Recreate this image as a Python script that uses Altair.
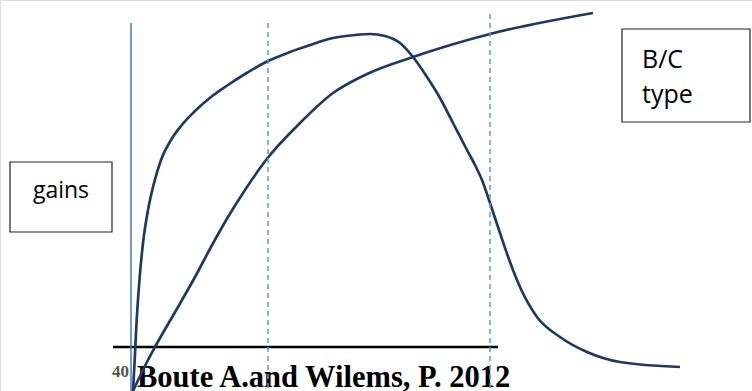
import altair as alt
import pandas as pd

W, H = 752, 391

# curve that rises, peaks and falls (pixel-space readings)
c1_x = [133, 134.7, 136.3, 139.7, 143, 148, 153, 161, 171, 181, 195, 211, 228, 245, 266, 290, 310, 333, 355, 370, 385, 400, 413, 427, 440, 453, 467, 475, 482, 490, 500, 510, 520, 537, 560, 587, 620, 680]
c1_y = [391, 360, 327, 277, 243, 210, 187, 160, 140, 126, 111, 97, 85, 74, 62, 52, 45, 38, 35, 34, 36, 43, 57, 77, 98, 123, 150, 165, 180, 203, 233, 262, 287, 317, 337, 352, 362, 367]

# monotonically rising curve
c2_x = [133, 148, 155, 178, 195, 211, 228, 245, 266, 300, 333, 367, 413, 490, 593]
c2_y = [391, 360, 347, 307, 277, 247, 217, 190, 160, 123, 93, 74, 57, 34, 13]

# vertical reference lines
dash_x = [268, 490]
dash_top = [23, 14]
solid_x = [131]
solid_top = [23]

# horizontal base line
base_x1, base_x2, base_y = [113], [498], [347]

# boxes
box_x1 = [10, 622]
box_x2 = [112, 750]
box_y1 = [162, 29]
box_y2 = [232, 122]

box_text = ["gains", "B/C", "type"]
box_text_x = [61, 642, 642]
box_text_y = [198, 68, 103]
box_text_size = [23, 25, 25]

xs = alt.Scale(domain=[0, W])
ys = alt.Scale(domain=[0, H], reverse=True)

def X(f):
    return alt.X(f, type="quantitative", scale=xs, axis=None)

def Y(f):
    return alt.Y(f, type="quantitative", scale=ys, axis=None)

c1 = pd.DataFrame({"x": c1_x, "y": c1_y})
c2 = pd.DataFrame({"x": c2_x, "y": c2_y})

navy = "#203864"

curve1 = alt.Chart(c1).mark_line(color=navy, strokeWidth=2.7, interpolate="monotone").encode(
    x=X("x"), y=Y("y"))
curve2 = alt.Chart(c2).mark_line(color=navy, strokeWidth=2.7, interpolate="monotone").encode(
    x=X("x"), y=Y("y"))

dash_df = pd.DataFrame({"x": dash_x, "y": dash_top, "y2": [H] * len(dash_x)})
dashed = alt.Chart(dash_df).mark_rule(color="#6a93d8", strokeWidth=1.5, strokeDash=[5, 4]).encode(
    x=X("x"), y=Y("y"), y2="y2")

solid_df = pd.DataFrame({"x": solid_x, "y": solid_top, "y2": [H]})
solid = alt.Chart(solid_df).mark_rule(color="#4a78c8", strokeWidth=1.5).encode(
    x=X("x"), y=Y("y"), y2="y2")

base_df = pd.DataFrame({"x": base_x1, "x2": base_x2, "y": base_y})
base = alt.Chart(base_df).mark_rule(color="black", strokeWidth=2.5).encode(
    x=X("x"), x2="x2", y=Y("y"))

box_df = pd.DataFrame({"x": box_x1, "x2": box_x2, "y": box_y1, "y2": box_y2})
boxes = alt.Chart(box_df).mark_rect(fill="white", stroke="#222222", strokeWidth=1.2).encode(
    x=X("x"), x2="x2", y=Y("y"), y2="y2")

bt = pd.DataFrame({"t": box_text, "x": box_text_x, "y": box_text_y, "s": box_text_size})
txt_center = alt.Chart(bt.iloc[[0]]).mark_text(
    align="center", baseline="alphabetic", font="Open Sans", color="black").encode(
    x=X("x"), y=Y("y"), text="t", size=alt.Size("s:Q", scale=None, legend=None))
txt_left = alt.Chart(bt.iloc[1:]).mark_text(
    align="left", baseline="alphabetic", font="Open Sans", color="black").encode(
    x=X("x"), y=Y("y"), text="t", size=alt.Size("s:Q", scale=None, legend=None))

cite_df = pd.DataFrame({"t": ["Boute A.and Wilems, P. 2012"], "x": [137], "y": [387]})
cite = alt.Chart(cite_df).mark_text(
    align="left", baseline="alphabetic", font="Liberation Serif", fontWeight="bold", fontSize=30.5, color="black").encode(
    x=X("x"), y=Y("y"), text="t")

num_df = pd.DataFrame({"t": ["40"], "x": [112], "y": [377]})
num = alt.Chart(num_df).mark_text(
    align="left", baseline="alphabetic", font="Liberation Serif", fontWeight="bold", fontSize=17, color="#555555").encode(
    x=X("x"), y=Y("y"), text="t")

chart = alt.layer(
    boxes, txt_center, txt_left, base, num, cite, solid, curve1, curve2, dashed
).properties(
    width=W, height=H, padding=0, autosize=alt.AutoSizeParams(type="none")
).configure_view(stroke=None).configure(background="white")

chart.save("out.html", embed_options={"renderer": "svg", "actions": False})
